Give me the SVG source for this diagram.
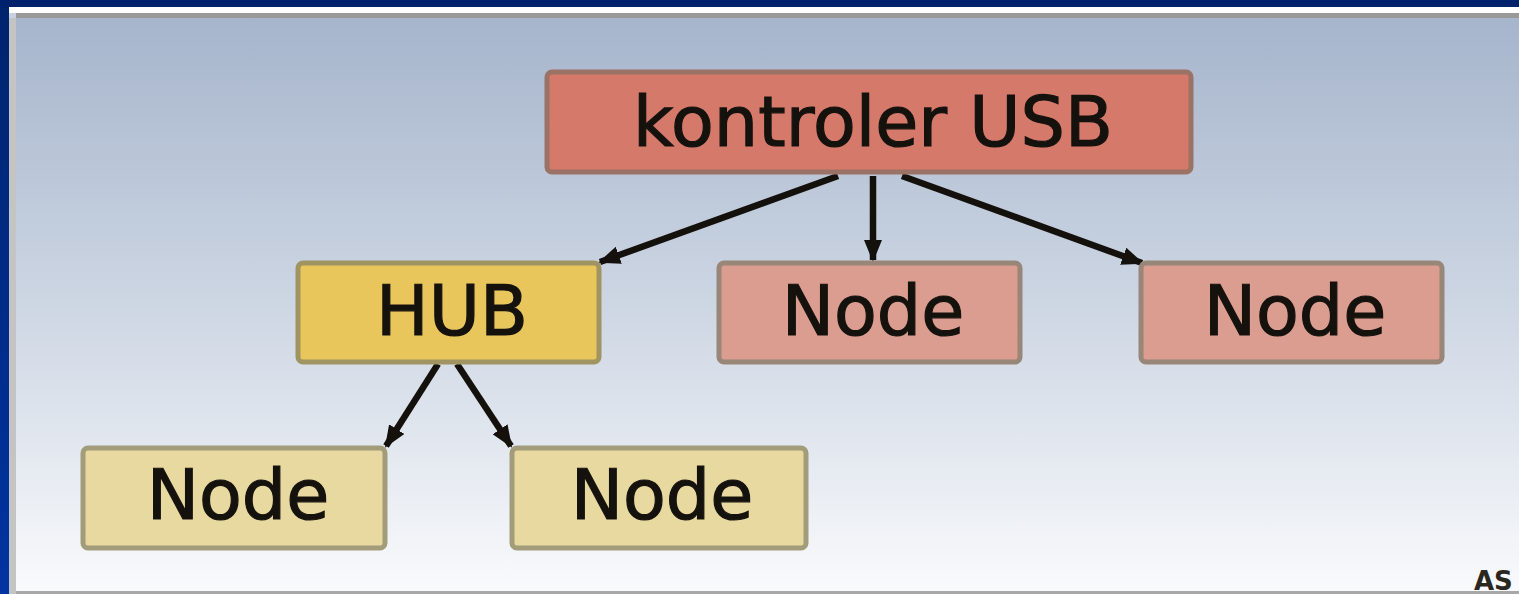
<svg xmlns="http://www.w3.org/2000/svg" width="1519" height="594" viewBox="0 0 1519 594">
  <style>
    .box { stroke-width: 5; }
    .root { fill: #d5796b; stroke: #9a7266; }
    .hub { fill: #e8c65c; stroke: #a09462; }
    .pnode { fill: #db9d90; stroke: #988679; }
    .ynode { fill: #e8d9a0; stroke: #a29c7a; }
    .lbl { font-family: "DejaVu Sans", Verdana, sans-serif; font-size: 70px; fill: #15120e; stroke: #15120e; stroke-width: 1.2; text-anchor: middle; }
    .wire { stroke: #14110d; stroke-width: 6.5; fill: none; marker-end: url(#head); }
  </style>
  <defs>
    <linearGradient id="bg" x1="0" y1="0" x2="0" y2="1">
      <stop offset="0" stop-color="#a6b5cc"/>
      <stop offset="0.5" stop-color="#cdd6e3"/>
      <stop offset="1" stop-color="#f9fafc"/>
    </linearGradient>
    <linearGradient id="side" x1="0" y1="0" x2="0" y2="1">
      <stop offset="0" stop-color="#00236c"/>
      <stop offset="1" stop-color="#0034a2"/>
    </linearGradient>
    <marker id="head" markerUnits="userSpaceOnUse" markerWidth="22" markerHeight="18" refX="20" refY="9" orient="auto">
      <path d="M0,0 L22,9 L0,18 z" fill="#14110d"/>
    </marker>
  </defs>

  <!-- frame -->
  <rect x="0" y="0" width="1519" height="594" fill="url(#side)"/>
  <rect x="0" y="0" width="1519" height="7" fill="#00226c"/>
  <rect x="9" y="7" width="1510" height="6" fill="#ffffff"/>
  <rect x="9" y="13" width="7" height="5" fill="#c8d2e0"/>
  <rect x="16" y="13" width="1503" height="5" fill="#999999"/>
  <rect x="9" y="18" width="7" height="576" fill="#c4c4c4"/>
  <rect x="16" y="18" width="1503" height="573" fill="url(#bg)"/>
  <rect x="16" y="591" width="1503" height="3" fill="#a8a8a8"/>

  <!-- connectors -->
  <g id="connectors">
    <line class="wire" x1="838" y1="176" x2="600" y2="262"/>
    <line class="wire" x1="873" y1="176" x2="873" y2="260"/>
    <line class="wire" x1="902" y1="176" x2="1142" y2="263"/>
    <line class="wire" x1="438" y1="364" x2="386" y2="446"/>
    <line class="wire" x1="457" y1="364" x2="511" y2="446"/>
  </g>

  <g id="root">
    <rect class="box root" x="547" y="72" width="644" height="100" rx="5"/>
    <text class="lbl" x="873" y="146">kontroler USB</text>
  </g>
  <g id="hub">
    <rect class="box hub" x="298" y="263" width="301" height="99" rx="5"/>
    <text class="lbl" x="452" y="335">HUB</text>
  </g>
  <g id="node-mid">
    <rect class="box pnode" x="719" y="263" width="301" height="99" rx="5"/>
    <text class="lbl" x="873" y="335">Node</text>
  </g>
  <g id="node-right">
    <rect class="box pnode" x="1141" y="263" width="301" height="99" rx="5"/>
    <text class="lbl" x="1295" y="335">Node</text>
  </g>
  <g id="node-left">
    <rect class="box ynode" x="83" y="448" width="302" height="100" rx="5"/>
    <text class="lbl" x="238" y="519">Node</text>
  </g>
  <g id="node-center">
    <rect class="box ynode" x="512" y="448" width="294" height="100" rx="5"/>
    <text class="lbl" x="662" y="519">Node</text>
  </g>

  <text x="1474" y="590" font-family="DejaVu Sans, sans-serif" font-size="26" font-weight="bold" fill="#2a2720">AS</text>
</svg>
